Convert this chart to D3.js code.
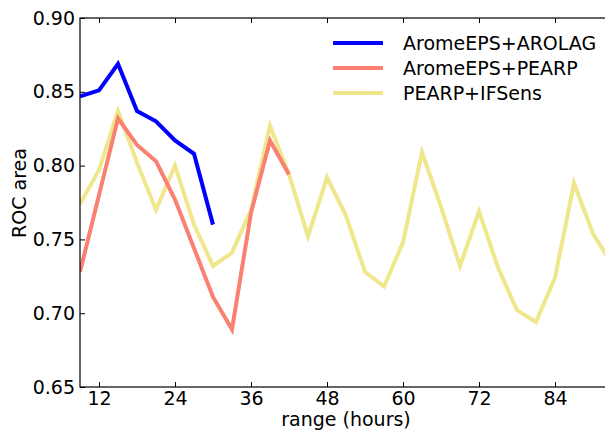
<!DOCTYPE html>
<html lang="en">
<head>
    <meta charset="utf-8">
    <title>ROC area</title>
    <script type="text/javascript" src="https://d3js.org/d3.v7.min.js"></script>
    <style type="text/css">
        body { margin: 0; background: #fff; }
        text { font-family: "DejaVu Sans", sans-serif; fill: #000; }
    </style>
</head>
<body>
<script type="text/javascript">

    // forecast range (hours)
    var hours = [9, 12, 15, 18, 21, 24, 27, 30, 33, 36, 39, 42, 45, 48, 51, 54, 57, 60,
                 63, 66, 69, 72, 75, 78, 81, 84, 87, 90, 93];

    var arolag = [0.847, 0.851, 0.869, 0.837, 0.830, 0.817, 0.808, 0.760];
    var pearp = [0.728, 0.780, 0.832, 0.814, 0.803, 0.777, 0.744, 0.711, 0.689, 0.768, 0.817, 0.794];
    var ifsens = [0.774, 0.797, 0.837, 0.802, 0.770, 0.800, 0.760, 0.732, 0.741, 0.770, 0.827, 0.794,
                  0.752, 0.792, 0.766, 0.728, 0.718, 0.748, 0.809, 0.772, 0.732, 0.769, 0.731, 0.702,
                  0.694, 0.724, 0.788, 0.754, 0.733];

    var series_names = ["AromeEPS+AROLAG", "AromeEPS+PEARP", "PEARP+IFSens"];
    var series_colors = ["#0000ff", "#fa8072", "#f0e68c"];
    var series_values = [arolag, pearp, ifsens];

    var x_ticks = [12, 24, 36, 48, 60, 72, 84];
    var y_ticks = [0.65, 0.70, 0.75, 0.80, 0.85, 0.90];

    var w = 605;
    var h = 430;

    // plot box (note: "top" is taken by window.top)
    var p_left = 80, p_top = 18, p_right = 612, p_bottom = 387;
    var font_size = "19px";

    var xScale = d3.scaleLinear().domain([9, 93]).range([p_left, p_right]);
    var yScale = d3.scaleLinear().domain([0.65, 0.90]).range([p_bottom, p_top]);

    var svg = d3.select("body")
        .append("svg")
        .attr("width", w)
        .attr("height", h);

    svg.append("defs").append("clipPath")
        .attr("id", "plot")
        .append("rect")
        .attr("x", p_left).attr("y", p_top)
        .attr("width", p_right - p_left).attr("height", p_bottom - p_top);

    var line = d3.line()
        .x(function(d) { return xScale(d.h); })
        .y(function(d) { return yScale(d.v); });

    // draw the yellow first so blue ends up on top
    var order = [2, 1, 0];
    var lines = svg.append("g").attr("clip-path", "url(#plot)");
    order.forEach(function(s) {
        var pts = series_values[s].map(function(v, i) { return { h: hours[i], v: v }; });
        lines.append("path")
            .datum(pts)
            .attr("d", line)
            .attr("fill", "none")
            .attr("stroke", series_colors[s])
            .attr("stroke-width", 4)
            .attr("stroke-linejoin", "miter");
    });

    // frame
    svg.append("rect")
        .attr("x", p_left).attr("y", p_top)
        .attr("width", p_right - p_left).attr("height", p_bottom - p_top)
        .attr("fill", "none")
        .attr("stroke", "#000")
        .attr("stroke-width", 1.2);

    // axes, ticks pointing inside like old matplotlib
    var xAxis = svg.append("g")
        .attr("transform", "translate(0," + p_bottom + ")")
        .call(d3.axisBottom(xScale).tickValues(x_ticks).tickSizeInner(-5).tickSizeOuter(0).tickPadding(4));
    var xTop = svg.append("g")
        .attr("transform", "translate(0," + p_top + ")")
        .call(d3.axisTop(xScale).tickValues(x_ticks).tickSizeInner(-5).tickSizeOuter(0).tickFormat(""));
    var yAxis = svg.append("g")
        .attr("transform", "translate(" + p_left + ",0)")
        .call(d3.axisLeft(yScale).tickValues(y_ticks).tickSizeInner(-5).tickSizeOuter(0).tickPadding(5)
            .tickFormat(d3.format(".2f")));

    [xAxis, xTop, yAxis].forEach(function(g) {
        g.select(".domain").remove();
        g.selectAll("line").attr("stroke", "#000");
        g.selectAll("text").style("font-size", font_size).style("font-family", "DejaVu Sans, sans-serif");
    });

    svg.append("text")
        .attr("x", (p_left + p_right) / 2)
        .attr("y", 426)
        .attr("text-anchor", "middle")
        .style("font-size", font_size)
        .text("range (hours)");

    svg.append("text")
        .attr("transform", "translate(26,193) rotate(-90)")
        .attr("text-anchor", "middle")
        .style("font-size", font_size)
        .text("ROC area");

    // legend
    var legend = svg.append("g");
    series_names.forEach(function(name, i) {
        var ly = 43 + i * 25;
        legend.append("line")
            .attr("x1", 333).attr("x2", 383)
            .attr("y1", ly).attr("y2", ly)
            .attr("stroke", series_colors[i])
            .attr("stroke-width", 4);
        legend.append("text")
            .attr("x", 403)
            .attr("y", ly + 7)
            .style("font-size", font_size)
            .text(name);
    });

</script>
</body>
</html>
